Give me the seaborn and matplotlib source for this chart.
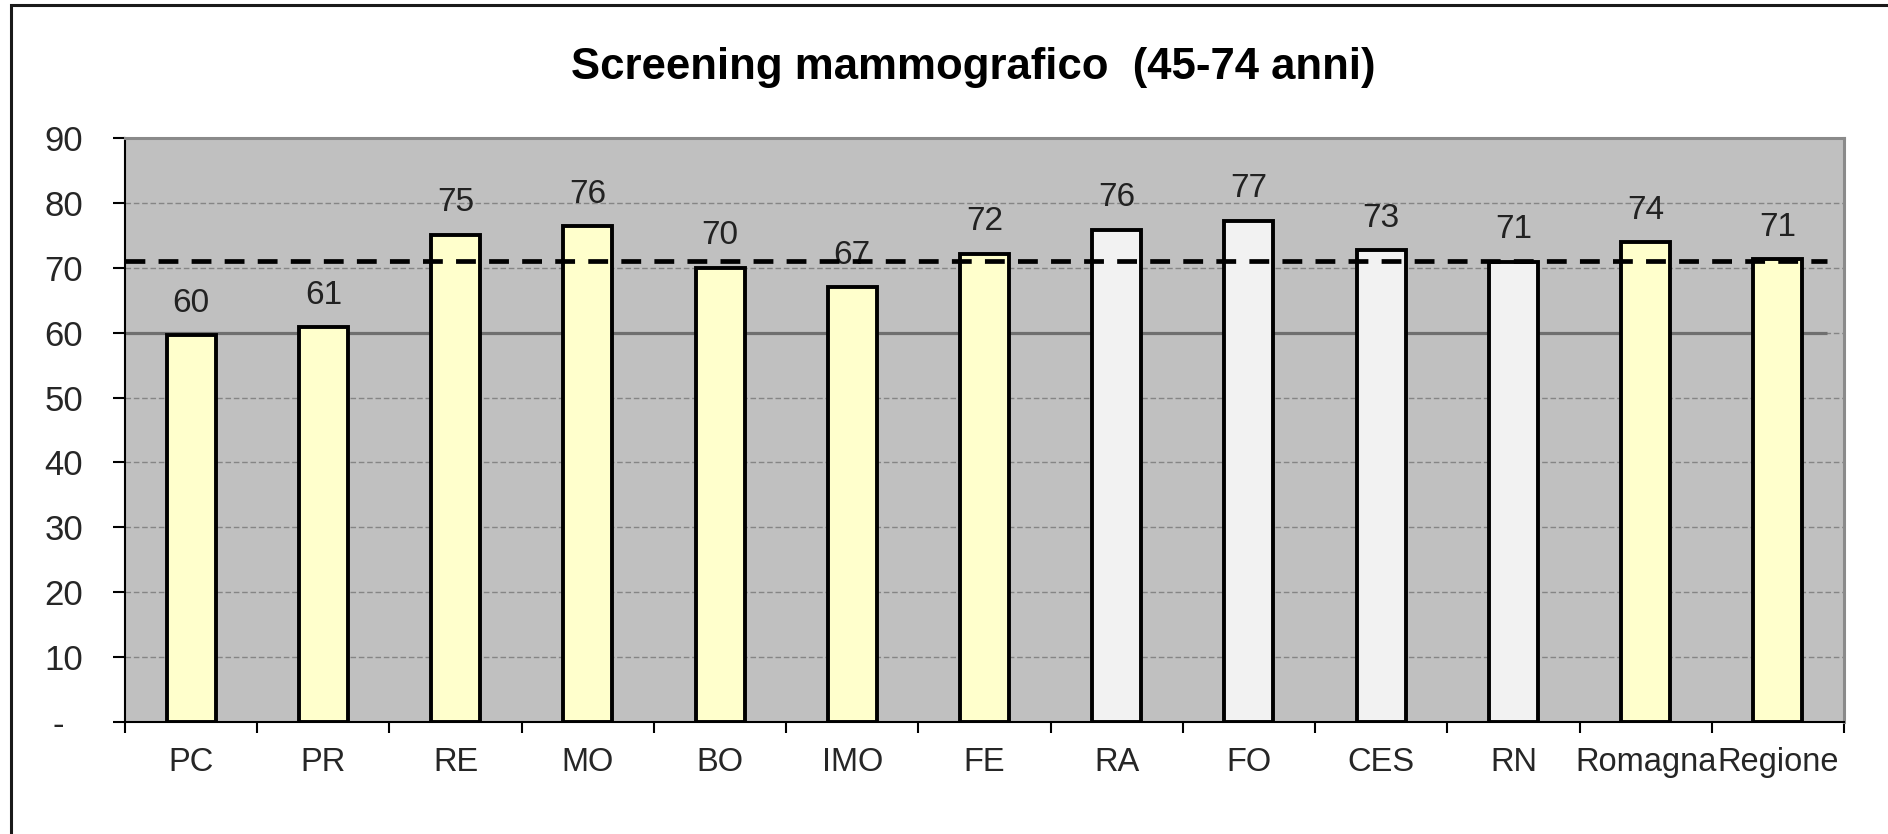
import matplotlib
matplotlib.use("Agg")
import matplotlib.pyplot as plt
import matplotlib.patches as mpatches
from matplotlib.ticker import FixedLocator, FuncFormatter
import seaborn as sns
import pandas as pd

# dati
aziende = ["PC", "PR", "RE", "MO", "BO", "IMO", "FE", "RA", "FO", "CES", "RN", "Romagna", "Regione"]
copertura = [59.6, 60.8, 75.1, 76.4, 70.0, 67.0, 72.1, 75.8, 77.2, 72.7, 70.9, 73.9, 71.3]
gruppo = ["emilia"] * 7 + ["romagna"] * 4 + ["emilia"] * 2
soglia = 60
media_regione = 71
y_ticks = [0, 10, 20, 30, 40, 50, 60, 70, 80, 90]

colori = {"emilia": "#FFFFCC", "romagna": "#F2F2F2"}

df = pd.DataFrame({"Azienda": aziende, "Copertura": copertura, "Gruppo": gruppo})

sns.set_style("white")
plt.rcParams["font.family"] = ["Liberation Sans", "DejaVu Sans"]

fig = plt.figure(figsize=(18.88, 8.34), dpi=100)
ax = fig.add_axes([125 / 1888, 112 / 834, 1719 / 1888, 584 / 834])
ax.set_facecolor("#C0C0C0")

sns.barplot(data=df, x="Azienda", y="Copertura", hue="Gruppo", palette=colori,
            dodge=False, width=0.37, edgecolor="black", linewidth=2.8,
            saturation=1, legend=False, ax=ax, zorder=3)

for c in ax.containers:
    ax.bar_label(c, fmt="%.0f", padding=12, fontsize=24, color="#222222")

n = len(aziende)
ax.hlines(soglia, -0.5, n - 0.63, colors="#6f6f6f", linewidth=2.3, zorder=2)
ax.plot([-0.5, n - 0.63], [media_regione, media_regione], color="black",
        linewidth=3.4, dashes=(4.2, 2.8), zorder=4)

ax.set_xlim(-0.5, n - 0.5)
ax.set_ylim(0, 90)
ax.set_xlabel("")
ax.set_ylabel("")

ax.yaxis.set_major_locator(FixedLocator(y_ticks))
ax.yaxis.set_major_formatter(FuncFormatter(lambda v, p: "-  " if v == 0 else f"{v:.0f}"))
ax.grid(axis="y", color="#858585", linewidth=1, linestyle=(0, (4, 2)), zorder=1)
ax.tick_params(axis="y", direction="out", length=9, width=1.5, color="black",
               pad=21, labelsize=25, left=True)

ax.set_xticks(range(n))
ax.set_xticklabels(aziende)
ax.set_xticks([i - 0.5 for i in range(n + 1)], minor=True)
ax.tick_params(axis="x", which="major", length=0, pad=18, labelsize=23.5)
ax.tick_params(axis="x", which="minor", direction="out", length=8, width=1.5,
               color="black", bottom=True)

for s in ["left", "bottom"]:
    ax.spines[s].set_color("black")
    ax.spines[s].set_linewidth(1.5)
for s in ["top", "right"]:
    ax.spines[s].set_color("#8a8a8a")
    ax.spines[s].set_linewidth(2.2)

fig.text(973 / 1888, 1 - 79 / 834, "Screening mammografico  (45-74 anni)",
         ha="center", va="baseline", fontsize=31.5, fontweight="bold", color="black")

bordo = mpatches.Rectangle((11 / 1888, -0.05), 2, 1 - 5 / 834 + 0.05,
                           transform=fig.transFigure, fill=False,
                           edgecolor="#1a1a1a", linewidth=2.2, clip_on=False)
fig.patches.append(bordo)

fig.savefig("out.png", dpi=100)
